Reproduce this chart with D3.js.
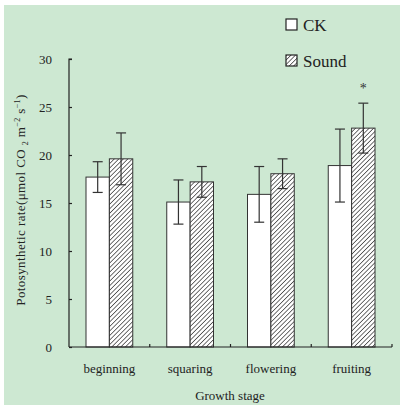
<!DOCTYPE html>
<html>
<head>
<meta charset="utf-8">
<script src="https://cdn.jsdelivr.net/npm/d3@7"></script>
<style>
  body { margin: 0; background: #fff; }
</style>
</head>
<body>
<script>
// chart data
var stages = ["beginning", "squaring", "flowering", "fruiting"];
var series = ["CK", "Sound"];
var ckValues = [17.7, 15.1, 15.9, 18.9];
var ckErrors = [1.6, 2.3, 2.9, 3.8];
var soundValues = [19.6, 17.2, 18.05, 22.8];
var soundErrors = [2.7, 1.6, 1.55, 2.6];
var yTicks = [0, 5, 10, 15, 20, 25, 30];
var significance = ["", "", "", "*"];

var width = 400, height = 407;
var serif = "'Liberation Serif', 'Times New Roman', 'DejaVu Serif', serif";

var svg = d3.select("body").append("svg")
    .attr("width", width)
    .attr("height", height)
    .attr("font-family", serif)
    .style("font-family", serif);

// hatch pattern for the Sound bars
var defs = svg.append("defs");
defs.append("pattern")
    .attr("id", "hatch")
    .attr("patternUnits", "userSpaceOnUse")
    .attr("width", 3.2)
    .attr("height", 3.2)
    .attr("patternTransform", "rotate(45)")
  .call(function(p) {
    p.append("rect").attr("width", 3.2).attr("height", 3.2).attr("fill", "#fff");
    p.append("line").attr("x1", 0).attr("y1", 0).attr("x2", 0).attr("y2", 3.2)
      .attr("stroke", "#333").attr("stroke-width", 1.4);
  });

// green background
svg.append("rect")
    .attr("x", 4).attr("y", 5)
    .attr("width", 396).attr("height", 400)
    .attr("fill", "#cde8d2");

var x = d3.scaleBand()
    .domain(stages)
    .range([69, 392]);

var xInner = d3.scaleBand()
    .domain(series)
    .range([17, x.bandwidth() - 17]);

var y = d3.scaleLinear()
    .domain([0, 30])
    .range([347, 59]);

// bars
var rows = stages.map(function(s, i) {
  return [
    {stage: s, key: "CK", value: ckValues[i], err: ckErrors[i]},
    {stage: s, key: "Sound", value: soundValues[i], err: soundErrors[i]}
  ];
});

var groups = svg.append("g")
  .selectAll("g")
  .data(rows)
  .enter()
  .append("g")
    .attr("transform", function(d) { return "translate(" + x(d[0].stage) + ",0)"; });

groups.selectAll("rect")
  .data(function(d) { return d; })
  .enter()
  .append("rect")
    .attr("x", function(d) { return xInner(d.key); })
    .attr("y", function(d) { return y(d.value); })
    .attr("width", xInner.bandwidth())
    .attr("height", function(d) { return y(0) - y(d.value); })
    .attr("fill", function(d) { return d.key == "CK" ? "#fff" : "url(#hatch)"; })
    .attr("stroke", "#333")
    .attr("stroke-width", 1);

// error bars
var eb = groups.selectAll("g.err")
  .data(function(d) { return d; })
  .enter()
  .append("g")
    .attr("class", "err")
    .attr("stroke", "#333")
    .attr("stroke-width", 1.2);

function cx(d) { return xInner(d.key) + xInner.bandwidth() / 2; }

eb.append("line")
    .attr("x1", cx).attr("x2", cx)
    .attr("y1", function(d) { return y(d.value + d.err); })
    .attr("y2", function(d) { return y(d.value - d.err); });
eb.append("line")
    .attr("x1", function(d) { return cx(d) - 5; })
    .attr("x2", function(d) { return cx(d) + 5; })
    .attr("y1", function(d) { return y(d.value + d.err); })
    .attr("y2", function(d) { return y(d.value + d.err); });
eb.append("line")
    .attr("x1", function(d) { return cx(d) - 5; })
    .attr("x2", function(d) { return cx(d) + 5; })
    .attr("y1", function(d) { return y(d.value - d.err); })
    .attr("y2", function(d) { return y(d.value - d.err); });

// significance marks
svg.append("g")
  .selectAll("text")
  .data(stages)
  .enter()
  .append("text")
    .attr("x", function(d) { return x(d) + xInner("Sound") + xInner.bandwidth() / 2; })
    .attr("y", function(d, i) { return y(soundValues[i] + soundErrors[i]) - 10; })
    .attr("text-anchor", "middle")
    .attr("font-size", 14)
    .attr("fill", "#333")
    .text(function(d, i) { return significance[i]; });

// y axis, ticks inward
var yAxis = svg.append("g")
    .attr("transform", "translate(69,0)")
    .call(d3.axisRight(y).tickValues(yTicks).tickSize(3).tickFormat(""));
yAxis.select(".domain").attr("d", "M3,59H0V347");
yAxis.selectAll("line, path").attr("stroke", "#222").attr("stroke-width", 1.2);

svg.append("g")
  .selectAll("text")
  .data(yTicks)
  .enter()
  .append("text")
    .attr("x", 52)
    .attr("y", function(d) { return y(d) + 4.5; })
    .attr("text-anchor", "end")
    .attr("font-size", 13)
    .attr("fill", "#222")
    .text(function(d) { return d; });

// x axis, ticks inward between groups
var xAxis = svg.append("g")
    .attr("transform", "translate(0,347)");
xAxis.append("line")
    .attr("x1", 69).attr("x2", 392)
    .attr("stroke", "#222").attr("stroke-width", 1.2);
xAxis.selectAll("line.tick")
  .data(stages)
  .enter()
  .append("line")
    .attr("class", "tick")
    .attr("x1", function(d) { return x(d) + x.bandwidth(); })
    .attr("x2", function(d) { return x(d) + x.bandwidth(); })
    .attr("y1", 0).attr("y2", -3)
    .attr("stroke", "#222").attr("stroke-width", 1.2);

svg.append("g")
  .selectAll("text")
  .data(stages)
  .enter()
  .append("text")
    .attr("x", function(d) { return x(d) + x.bandwidth() / 2; })
    .attr("y", 373)
    .attr("text-anchor", "middle")
    .attr("font-size", 13)
    .attr("fill", "#222")
    .text(function(d) { return d; });

// axis titles
svg.append("text")
    .attr("x", 230)
    .attr("y", 400)
    .attr("text-anchor", "middle")
    .attr("font-size", 13)
    .attr("fill", "#222")
    .text("Growth stage");

var yl = svg.append("text")
    .attr("transform", "translate(25,200) rotate(-90)")
    .attr("text-anchor", "middle")
    .attr("font-size", 13)
    .attr("letter-spacing", 0.4)
    .attr("fill", "#222");
yl.append("tspan").text("Potosynthetic rate(\u03bcmol CO ");
yl.append("tspan").attr("font-size", 8).attr("dy", 3).text("2");
yl.append("tspan").attr("dy", -3).text("  m");
yl.append("tspan").attr("font-size", 8).attr("dy", -5).text("\u22122");
yl.append("tspan").attr("dy", 5).text(" s");
yl.append("tspan").attr("font-size", 8).attr("dy", -5).text("\u22121");
yl.append("tspan").attr("dy", 5).text(")");

// legend
var legend = svg.append("g")
  .selectAll("g")
  .data(series)
  .enter()
  .append("g")
    .attr("transform", function(d, i) { return "translate(286," + (19 + i * 36) + ")"; });
legend.append("rect")
    .attr("width", 11).attr("height", 11)
    .attr("fill", function(d) { return d == "CK" ? "#fff" : "url(#hatch)"; })
    .attr("stroke", "#222").attr("stroke-width", 1.2);
legend.append("text")
    .attr("x", 17)
    .attr("y", 11.5)
    .attr("font-size", 17)
    .attr("fill", "#222")
    .text(function(d) { return d; });
</script>
</body>
</html>
